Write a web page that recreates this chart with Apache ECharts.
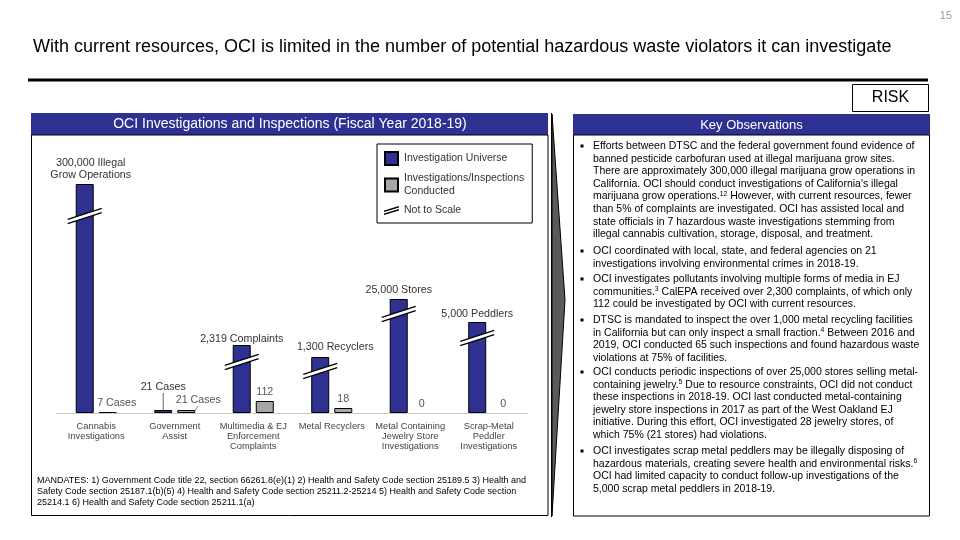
<!DOCTYPE html>
<html>
<head>
<meta charset="utf-8">
<script src="https://cdn.jsdelivr.net/npm/echarts@6/dist/echarts.min.js"></script>
<style>
html,body{margin:0;padding:0;background:#fff;}
#chart{width:960px;height:540px;}
</style>
</head>
<body>
<div id="chart"></div>
<script>
// ---------- DATA ----------
const categories = [
  'Cannabis\nInvestigations',
  'Government\nAssist',
  'Multimedia & EJ\nEnforcement\nComplaints',
  'Metal Recyclers',
  'Metal Containing\nJewelry Store\nInvestigations',
  'Scrap-Metal\nPeddler\nInvestigations'
];
// Displayed bar heights (chart is "Not to Scale"; heights)
const universeHeights  = [229, 3, 68, 56, 114, 91];
const conductedHeights = [1, 3, 12, 5, 0, 0];
// Actual values shown as labels
const universeLabels  = ['300,000 Illegal\nGrow Operations', '21 Cases', '2,319 Complaints', '1,300 Recyclers', '25,000 Stores', '5,000 Peddlers'];
const conductedLabels = ['7 Cases', '21 Cases', '112', '18', '0', '0'];
// Position of the "not to scale" break marks on the universe bars (display units)
const breakAt = [197, null, 51, 42, 99, 75];

const seriesNames = ['Investigation Universe', 'Investigations/Inspections Conducted', 'Not to Scale'];

const titleText = 'With current resources, OCI is limited in the number of potential hazardous waste violators it can investigate';
const panelTitle = 'OCI Investigations and Inspections (Fiscal Year 2018-19)';
const obsTitle = 'Key Observations';
const observations = [
  ['Efforts between DTSC and the federal government found evidence of',
   'banned pesticide carbofuran used at illegal marijuana grow sites.',
   'There are approximately 300,000 illegal marijuana grow operations in',
   'California. OCI should conduct investigations of California\'s illegal',
   'marijuana grow operations.{sup|12} However, with current resources, fewer',
   'than 5% of complaints are investigated. OCI has assisted local and',
   'state officials in 7 hazardous waste investigations stemming from',
   'illegal cannabis cultivation, storage, disposal, and treatment.'],
  ['OCI coordinated with local, state, and federal agencies on 21',
   'investigations involving environmental crimes in 2018-19.'],
  ['OCI investigates pollutants involving multiple forms of media in EJ',
   'communities.{sup|3} CalEPA received over 2,300 complaints, of which only',
   '112 could be investigated by OCI with current resources.'],
  ['DTSC is mandated to inspect the over 1,000 metal recycling facilities',
   'in California but can only inspect a small fraction.{sup|4} Between 2016 and',
   '2019, OCI conducted 65 such inspections and found hazardous waste',
   'violations at 75% of facilities.'],
  ['OCI conducts periodic inspections of over 25,000 stores selling metal-',
   'containing jewelry.{sup|5} Due to resource constraints, OCI did not conduct',
   'these inspections in 2018-19. OCI last conducted metal-containing',
   'jewelry store inspections in 2017 as part of the West Oakland EJ',
   'initiative. During this effort, OCI investigated 28 jewelry stores, of',
   'which 75% (21 stores) had violations.'],
  ['OCI investigates scrap metal peddlers may be illegally disposing of',
   'hazardous materials, creating severe health and environmental risks.{sup|6}',
   'OCI had limited capacity to conduct follow-up investigations of the',
   '5,000 scrap metal peddlers in 2018-19.']
];
const mandates = [
  'MANDATES: 1) Government Code title 22, section 66261.8(e)(1) 2) Health and Safety Code section 25189.5 3) Health and',
  'Safety Code section 25187.1(b)(5) 4) Health and Safety Code section 25211.2-25214 5) Health and Safety Code section',
  '25214.1 6) Health and Safety Code section 25211.1(a)'
];

// ---------- STYLE / LAYOUT ----------
const FONT = '"Liberation Sans", Arial, sans-serif';
const NAVY = '#2E3192';
const GREYBAR = '#A6A6A6';
const BAR_W = 18;
const GAP = 0.28;
const universeLabelShift = [[6,0],[0,-14],[0,3],[15,-1],[0,0],[0,1.5]];
const conductedLabelShift = [[9,0],[12,-1],[0,0],[0,0],[0,0],[3,0]];
const obsCenters = [146, 251, 279, 320, 372, 451];
const OBS_LH = 12.65;

const chart = echarts.init(document.getElementById('chart'), null, {renderer: 'canvas'});

const universeData = universeHeights.map((v, i) => ({
  value: v,
  label: {formatter: universeLabels[i]},
  labelLine: {show: i === 1}
}));
const conductedData = conductedHeights.map((v, i) => ({
  value: v,
  label: {formatter: conductedLabels[i]},
  labelLine: {show: i === 1},
  itemStyle: v === 0 ? {borderWidth: 0} : undefined
}));
const breakData = [];
breakAt.forEach((b, i) => { if (b !== null) breakData.push([i, b]); });

// graphic elements for slide layout
const graphics = [
  {type: 'text', right: 8, top: 10, style: {text: '15', fill: '#999', font: '11px ' + FONT}},
  {type: 'text', left: 33, top: 38, style: {text: titleText, fill: '#000', font: '18px ' + FONT}},
  {type: 'rect', shape: {x: 28, y: 78.5, width: 900, height: 3}, style: {fill: '#000'}},
  {type: 'rect', shape: {x: 852.5, y: 84.5, width: 76, height: 27}, style: {fill: '#fff', stroke: '#000', lineWidth: 1}},
  {type: 'text', x: 890.5, y: 98, style: {text: 'RISK', fill: '#000', font: '16px ' + FONT, align: 'center', verticalAlign: 'middle'}},
  // left panel
  {type: 'rect', shape: {x: 31, y: 113, width: 517, height: 22}, style: {fill: NAVY}},
  {type: 'text', x: 290, y: 124.5, style: {text: panelTitle, fill: '#fff', font: '14px ' + FONT, align: 'center', verticalAlign: 'middle'}},
  {type: 'rect', shape: {x: 31.5, y: 135, width: 516.5, height: 380.5}, style: {fill: null, stroke: '#000', lineWidth: 1}},
  // wedge between panels
  {type: 'polygon', shape: {points: [[552, 114], [565, 300], [552, 516]]}, style: {fill: '#5a5a5a', stroke: '#000', lineWidth: 1}},
  {type: 'line', shape: {x1: 551.5, y1: 113, x2: 551.5, y2: 517}, style: {stroke: '#000', lineWidth: 1}},
  // right panel
  {type: 'rect', shape: {x: 573, y: 114, width: 357, height: 21}, style: {fill: NAVY}},
  {type: 'text', x: 751.5, y: 125, style: {text: obsTitle, fill: '#fff', font: '13px ' + FONT, align: 'center', verticalAlign: 'middle'}},
  {type: 'rect', shape: {x: 573.5, y: 135, width: 356, height: 381}, style: {fill: null, stroke: '#000', lineWidth: 1}},
  // mandates
  {type: 'text', x: 37, y: 475.5, style: {text: mandates.join('\n'), fill: '#000', font: '9px ' + FONT, lineHeight: 11, verticalAlign: 'top'}}
];
observations.forEach((lines, k) => {
  const cy = obsCenters[k];
  graphics.push({type: 'rect', shape: {x: 580.5, y: cy - 1.5, width: 3, height: 3}, style: {fill: '#000'}});
  graphics.push({
    type: 'text', x: 593, y: cy - OBS_LH / 2,
    style: {
      text: lines.join('\n'),
      fill: '#000',
      font: '10.5px ' + FONT,
      lineHeight: OBS_LH,
      verticalAlign: 'top',
      rich: {sup: {fontSize: 6.8, fontFamily: FONT, verticalAlign: 'top', lineHeight: OBS_LH, padding: [0, 0, 4, 0], fill: '#000'}}
    }
  });
});

const option = {
  backgroundColor: '#fff',
  animation: false,
  textStyle: {fontFamily: FONT},
  grid: {left: 57, right: 432, top: 183, bottom: 127, containLabel: false},
  legend: {
    orient: 'vertical',
    left: 377, top: 144,
    padding: [7, 8, 6, 7],
    itemGap: 6,
    itemWidth: 15, itemHeight: 13,
    backgroundColor: '#fff',
    borderColor: '#000', borderWidth: 1, borderRadius: 0,
    textStyle: {fontSize: 10.5, color: '#333', lineHeight: 13, fontFamily: FONT},
    formatter: n => n.replace(' Conducted', '\nConducted'),
    data: [
      {name: seriesNames[0], icon: 'path://M1,0 L14,0 L14,13 L1,13 Z'},
      {name: seriesNames[1], icon: 'path://M1,0 L14,0 L14,13 L1,13 Z'},
      {name: seriesNames[2], icon: 'path://M0,8 L20,2 L20,4.2 L0,10.2 Z M0,12 L20,6 L20,8.2 L0,14.2 Z', itemStyle: {color: '#000', borderWidth: 0}}
    ],
    selectedMode: false
  },
  xAxis: {
    type: 'category',
    data: categories,
    axisLine: {show: true, lineStyle: {color: '#c8c8c8', width: 1}},
    axisTick: {show: false},
    axisLabel: {color: '#444', fontSize: 9.3, lineHeight: 10.2, margin: 8, interval: 0, fontFamily: FONT}
  },
  yAxis: {type: 'value', min: 0, max: 230, show: false, splitLine: {show: false}},
  series: [
    {
      name: seriesNames[0], type: 'bar', data: universeData,
      barWidth: BAR_W, barGap: (GAP * 100) + '%',
      itemStyle: {color: NAVY, borderColor: '#000', borderWidth: 1},
      label: {show: true, position: 'top', distance: 3, color: '#333', fontSize: 10.7, lineHeight: 12, fontFamily: FONT},
      labelLine: {show: false, lineStyle: {color: '#666', width: 1}},
      labelLayout: p => ({dx: universeLabelShift[p.dataIndex][0], dy: universeLabelShift[p.dataIndex][1]}),
      z: 2
    },
    {
      name: seriesNames[1], type: 'bar', data: conductedData,
      barWidth: BAR_W, barGap: (GAP * 100) + '%',
      itemStyle: {color: GREYBAR, borderColor: '#000', borderWidth: 1},
      label: {show: true, position: 'top', distance: 3, color: '#555', fontSize: 10.7, lineHeight: 12, fontFamily: FONT},
      labelLine: {show: false, lineStyle: {color: '#888', width: 1}},
      labelLayout: p => ({dx: conductedLabelShift[p.dataIndex][0], dy: conductedLabelShift[p.dataIndex][1]}),
      z: 2
    },
    {
      name: seriesNames[2], type: 'custom', coordinateSystem: 'cartesian2d',
      data: breakData, encode: {x: 0, y: 1},
      itemStyle: {color: '#000'},
      z: 5,
      renderItem: function (params, api) {
        const p = api.coord([api.value(0), api.value(1)]);
        const cx = p[0] - (BAR_W / 2 + BAR_W * GAP / 2);
        const cy = p[1];
        const hw = 17, hh = 5.5, sep = 2.2;
        return {
          type: 'group',
          children: [
            {type: 'polygon', shape: {points: [[cx - hw, cy + hh - sep], [cx + hw, cy - hh - sep], [cx + hw, cy - hh + sep], [cx - hw, cy + hh + sep]]}, style: {fill: '#fff'}},
            {type: 'line', shape: {x1: cx - hw, y1: cy + hh - sep, x2: cx + hw, y2: cy - hh - sep}, style: {stroke: '#000', lineWidth: 1.3}},
            {type: 'line', shape: {x1: cx - hw, y1: cy + hh + sep, x2: cx + hw, y2: cy - hh + sep}, style: {stroke: '#000', lineWidth: 1.3}}
          ]
        };
      }
    }
  ],
  graphic: graphics
};
chart.setOption(option);
</script>
</body>
</html>
